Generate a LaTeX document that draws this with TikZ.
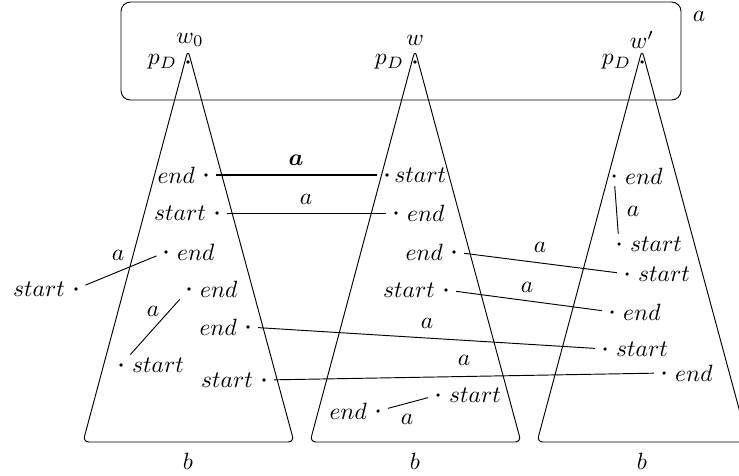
\documentclass[tikz,border=0pt]{standalone}
\usepackage{bm}
\begin{document}
\begin{tikzpicture}[x=0.425pt,y=-0.425pt,
  pt/.style={circle,fill,inner sep=0pt,minimum size=1.5pt},
  every label/.style={inner sep=0pt},
  label distance=3.6pt,
  conn/.style={shorten >=3.4pt,shorten <=3.4pt},
  tri/.style={draw,rounded corners=2.5pt},
  lbl/.style={inner sep=0pt}]
\useasboundingbox (0,0) rectangle (739,475);
\clip (0,0) rectangle (739,475);
% outer rounded box
\draw[rounded corners=4pt] (121,2) rectangle (681,100);
\node[lbl] (alab) at (699,16) {$a$};
% triangles
\draw[tri] (188,50) -- (294,442) -- (83,442) -- cycle;
\draw[tri] (415,50) -- (521,442) -- (310,442) -- cycle;
\draw[tri] (642,50) -- (748,442) -- (537,442) -- cycle;
% roots
\node[pt,label={left:$p_D$}] (r1) at (188,62) {};
\node[pt,label={left:$p_D$}] (r2) at (415,62) {};
\node[pt,label={left:$p_D$}] (r3) at (642,62) {};
\node[lbl] (w1) at (190,40) {$w_0$};
\node[lbl] (w2) at (415,40) {$w$};
\node[lbl] (w3) at (642,40) {$w'$};
\node[lbl] (b1) at (188,461) {$b$};
\node[lbl] (b2) at (415,461) {$b$};
\node[lbl] (b3) at (642,461) {$b$};
% tree 1
\node[pt,label={left:$end$}] (e1) at (206,175) {};
\node[pt,label={left:$start$}] (s1) at (217,213) {};
\node[pt,label={right:$end$}] (e1b) at (166,252) {};
\node[pt,label={left:$start$}] (s1b) at (76,289) {};
\node[pt,label={right:$end$}] (e1c) at (189,289) {};
\node[pt,label={right:$start$}] (s1c) at (121,365) {};
\node[pt,label={left:$end$}] (e1d) at (248,327) {};
\node[pt,label={left:$start$}] (s1d) at (264,380) {};
% tree 2
\node[pt,label={[label distance=2pt]right:$start$}] (s2) at (387,175) {};
\node[pt,label={right:$end$}] (e2) at (396,213) {};
\node[pt,label={left:$end$}] (e2c) at (454,252) {};
\node[pt,label={left:$start$}] (s2d) at (446,290) {};
\node[pt,label={left:$end$}] (e2e) at (378,411) {};
\node[pt,label={right:$start$}] (s2e) at (438,395) {};
% tree 3
\node[pt,label={right:$end$}] (e3a) at (614,176) {};
\node[pt,label={right:$start$}] (s3a) at (619,244) {};
\node[pt,label={right:$start$}] (s3b) at (627,274) {};
\node[pt,label={right:$end$}] (e3b) at (612,312) {};
\node[pt,label={right:$start$}] (s3c) at (605,349) {};
\node[pt,label={right:$end$}] (e3d) at (664,373) {};
% connectors
\draw[conn,line width=0.7pt] (e1) -- (s2);
\draw[conn] (s1) -- (e2);
\draw[conn] (s1b) -- (e1b);
\draw[conn,shorten >=5pt,shorten <=5pt] (s1c) -- (e1c);
\draw[conn] (e1d) -- (s3c);
\draw[conn] (s1d) -- (e3d);
\draw[conn] (e2c) -- (s3b);
\draw[conn] (s2d) -- (e3b);
\draw[conn] (e2e) -- (s2e);
\draw[conn] (e3a) -- (s3a);
% connector labels
\node[lbl] (a1) at (296,160) {$\bm{a}$};
\node[lbl] (a2) at (306,199) {$a$};
\node[lbl] (a3) at (118,255) {$a$};
\node[lbl] (a4) at (153,311) {$a$};
\node[lbl] (a5) at (427,323) {$a$};
\node[lbl] (a6) at (464,360) {$a$};
\node[lbl] (a7) at (540,247) {$a$};
\node[lbl] (a8) at (527,287) {$a$};
\node[lbl] (a9) at (407,419) {$a$};
\node[lbl] (a10) at (633,211) {$a$};
\end{tikzpicture}
\end{document}
